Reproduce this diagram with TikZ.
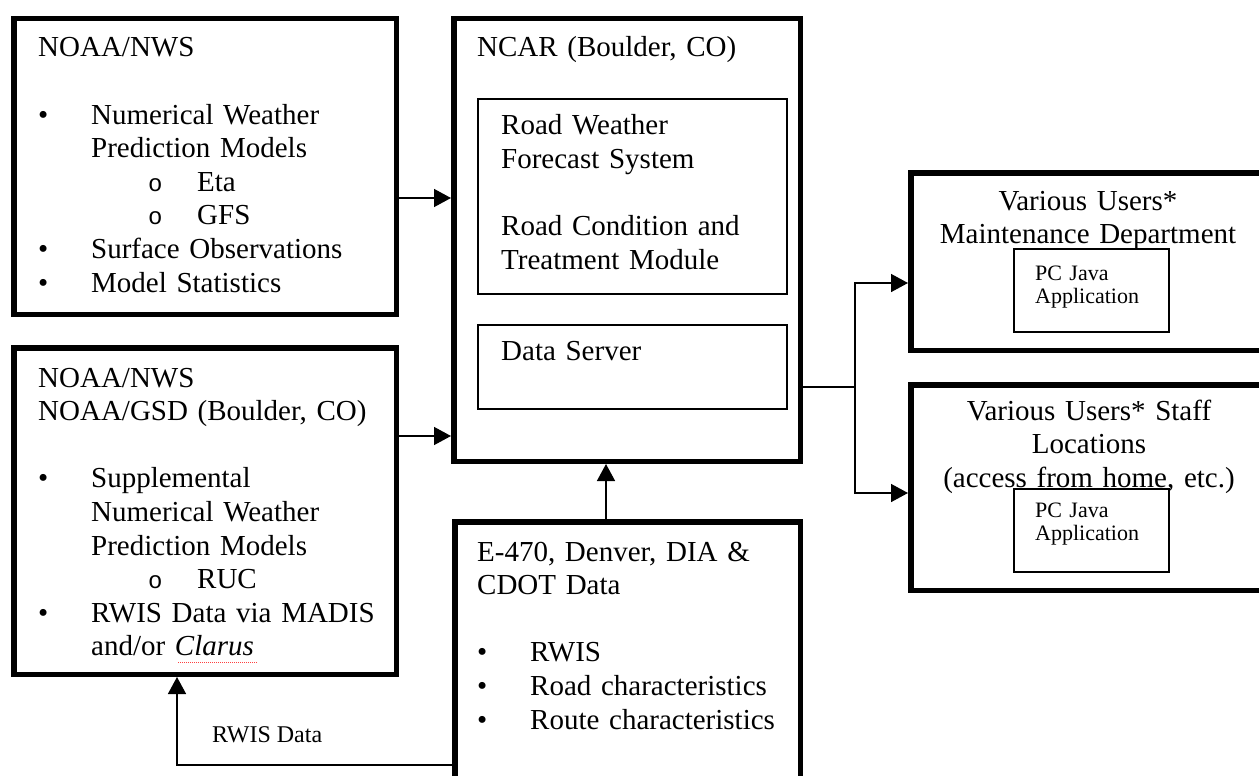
\documentclass[tikz,border=0pt]{standalone}
\usepackage{fontspec}
\setmainfont{Liberation Serif}
\setmonofont{Liberation Mono}
\usetikzlibrary{arrows.meta,positioning}
\newcommand{\bul}[1]{\makebox[53pt][l]{\textbullet}#1}
\newcommand{\cont}[1]{\hspace*{53pt}#1}
\newcommand{\subbul}[1]{\hspace*{110pt}\makebox[49pt][l]{\ttfamily\fontsize{24}{24}\selectfont o}#1}
\tikzset{
  heavybox/.style={draw, line width=5.5pt, inner sep=0pt, anchor=north west},
  thinbox/.style={draw, line width=1.6pt, inner sep=0pt, anchor=north west},
  bodytext/.style={inner sep=0pt, anchor=base west, align=left, text width=350pt, font=\fontsize{29}{33.6}\selectfont},
  usertext/.style={inner sep=0pt, anchor=base, align=center, text width=360pt, font=\fontsize{29}{33.6}\selectfont},
  smalltext/.style={inner sep=0pt, anchor=base west, align=left, text width=140pt, font=\fontsize{22}{23}\selectfont},
  arr/.style={line width=1.5pt, -{Triangle[length=17pt,width=18pt]}},
  plain/.style={line width=1.5pt}
}
\begin{document}
\begin{tikzpicture}[x=1pt,y=-1pt]
\useasboundingbox (0,0) rectangle (1259,776);
\node[heavybox, minimum width=382.5, minimum height=295.5] (nws) at (11,16) {};
\node[heavybox, minimum width=382.5, minimum height=326.5] (gsd) at (11,345) {};
\node[heavybox, minimum width=346.5, minimum height=442.5] (ncar) at (451,16) {};
\node[heavybox, minimum width=345.5, minimum height=262] (e470) at (452,519) {};
\node[heavybox, minimum width=360, minimum height=177.5] (users1) at (908,170) {};
\node[heavybox, minimum width=360, minimum height=205.5] (users2) at (908,382) {};
\node[thinbox, minimum width=309.4, minimum height=195.4] (rwfs) at (477,98) {};
\node[thinbox, minimum width=309.4, minimum height=84.4] (server) at (477,324) {};

\node[bodytext] (nwstext) at (38,57) {NOAA/NWS\\[33.6pt]
  \bul{Numerical Weather}\\
  \cont{Prediction Models}\\
  \subbul{Eta}\\
  \subbul{GFS}\\
  \bul{Surface Observations}\\
  \bul{Model Statistics}};
\node[bodytext] (gsdtext) at (38,387) {NOAA/NWS\\
  NOAA/GSD (Boulder, CO)\\[33.6pt]
  \bul{Supplemental}\\
  \cont{Numerical Weather}\\
  \cont{Prediction Models}\\
  \subbul{RUC}\\
  \bul{RWIS Data via MADIS}\\
  \cont{and/or \textit{Clarus}}};
\draw[red!75, line width=1pt, densely dotted] (178,662) -- (258,662);
\node[bodytext] (ncartext) at (477,57) {NCAR (Boulder, CO)};
\node[bodytext, text width=280pt] (rwfstext) at (501,135) {Road Weather\\
  Forecast System\\[33.6pt]
  Road Condition and\\
  Treatment Module};
\node[bodytext, text width=280pt] (servertext) at (501,360) {Data Server};
\node[bodytext, text width=320pt] (e470text) at (477,561) {E-470, Denver, DIA \&\\
  CDOT Data\\[33.6pt]
  \bul{RWIS}\\
  \bul{Road characteristics}\\
  \bul{Route characteristics}};
\node[usertext] (users1text) at (1088,210) {Various Users*\\Maintenance Department};
\node[usertext] (users2text) at (1089,420) {Various Users* Staff\\Locations\\(access from home, etc.)};
\node[thinbox, minimum width=155.4, minimum height=83.4] (java1) at (1013,248) {};
\node[thinbox, minimum width=155.4, minimum height=83.4] (java2) at (1013,488) {};
\node[smalltext] (java1text) at (1035,280) {PC Java\\Application};
\node[smalltext] (java2text) at (1035,517) {PC Java\\Application};
\node[inner sep=0pt, anchor=base west, font=\fontsize{24}{25}\selectfont] (rwislabel) at (212,742) {RWIS Data};

\coordinate (p1) at ([yshift=-31.5pt]nws.east);
\coordinate (p2) at ([yshift=75pt]gsd.east);
\coordinate (p3) at ([xshift=-21.5pt]e470.north);
\coordinate (p4) at ([yshift=-147pt]ncar.east);
\coordinate (hub) at ([xshift=52pt]p4);
\coordinate (p5) at ([yshift=-112pt]e470.west);
\coordinate (p6) at ([xshift=-28pt]gsd.south);
\draw[arr] (p1) -- (p1 -| ncar.west);
\draw[arr] (p2) -- (p2 -| ncar.west);
\draw[arr] (p3) -- (p3 |- ncar.south);
\draw[plain] (p4) -- (hub);
\draw[arr] (hub) |- ([yshift=-21.5pt]users1.west);
\draw[arr] (hub) |- ([yshift=-5.5pt]users2.west);
\draw[arr] (p5) -| (p6);
\end{tikzpicture}
\end{document}
